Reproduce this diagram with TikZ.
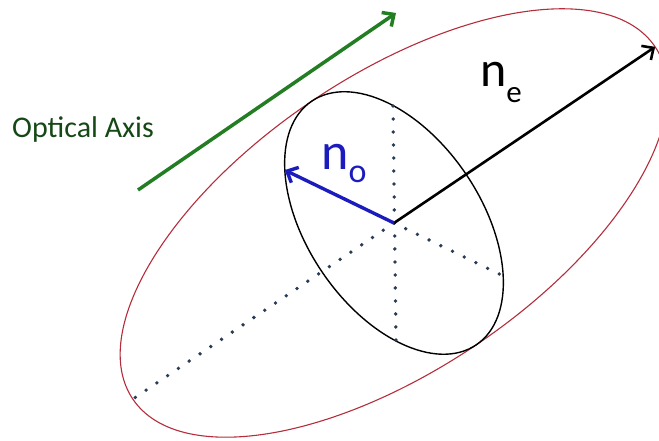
\documentclass[tikz,border=0pt]{standalone}
\usepackage{fontspec}
\setmainfont{Carlito}
\usepackage{tikz}
\usetikzlibrary{arrows.meta}
\definecolor{axisgreen}{RGB}{35,125,35}
\definecolor{labelgreen}{RGB}{22,72,22}
\definecolor{ordblue}{RGB}{28,28,190}
\definecolor{shellred}{RGB}{180,45,60}
\definecolor{dotgrey}{RGB}{40,60,85}
\tikzset{
  shell/.style = {draw=shellred, line width=1.1pt},
  circ/.style  = {draw=black, line width=1.4pt},
  vec/.style   = {line width=2.6pt, -{Straight Barb[length=9pt, width=17pt]}},
  guide/.style = {dotgrey, line width=3.8pt, line cap=round, dash pattern=on 0pt off 13pt},
  lbl/.style   = {inner sep=0pt, anchor=base west},
}

\begin{document}
\begin{tikzpicture}[x=1pt, y=1pt]
  \useasboundingbox (0,0) rectangle (659,441);
  \coordinate (O) at (394,218);
  % index ellipsoid and its ordinary section
  \begin{scope}[shift={(O)}, rotate=34]
    \draw[shell] (0,0) ellipse [x radius=315pt, y radius=147pt];
    \draw[circ] (0,0) ellipse [x radius=87pt, y radius=147pt];
    \coordinate (ne) at (315,0);
    \coordinate (tail) at (-313,0);
    \coordinate (no) at (-61,105);
    \coordinate (noback) at (61,-105);
  \end{scope}
  \coordinate (up) at (393,335);
  \coordinate (down) at (396,101);
  \draw[guide] (O) -- (tail);
  \draw[guide] (O) -- (noback);
  \draw[guide] (up) -- (down);
  % vectors
  \draw[vec] (O) -- (ne);
  \draw[vec, ordblue, line width=3.4pt] (O) -- (no);
  \coordinate (oa0) at (138,251);
  \coordinate (oa1) at (396,428);
  \draw[vec, axisgreen, line width=3.5pt] (oa0) -- (oa1);
  % labels
  \node[lbl, labelgreen, font=\fontsize{30}{31}\selectfont] (oalbl) at (12,303) {Optical Axis};
  \node[lbl, ordblue, font=\fontsize{52}{52}\selectfont] (nolbl) at (321,271)
    {n\raisebox{-13pt}{\fontsize{34}{34}\selectfont o}};
  \node[lbl, font=\fontsize{50}{50}\selectfont] (nelbl) at (480,354)
    {n\raisebox{-16pt}{\fontsize{31}{31}\selectfont e}};
\end{tikzpicture}
\end{document}
